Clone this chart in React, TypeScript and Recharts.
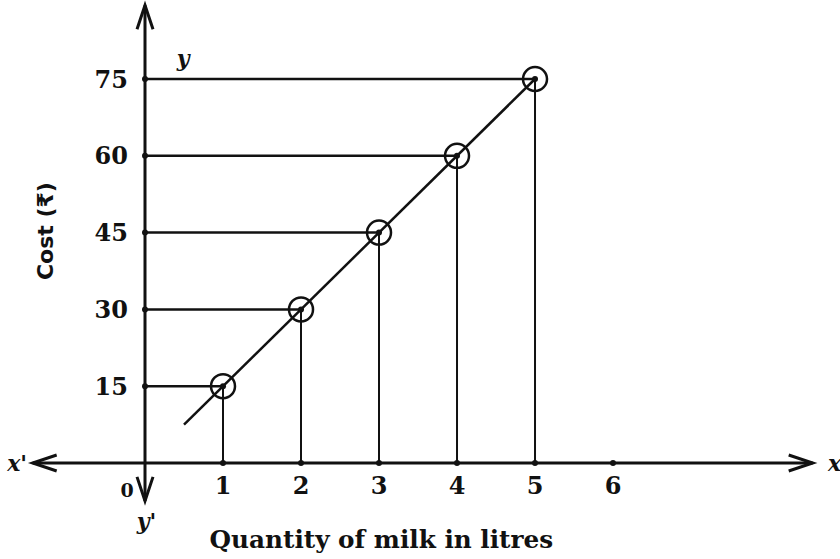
import React from 'react';
import {
    ComposedChart,
    Line,
    Scatter,
    XAxis,
    YAxis,
    ReferenceLine,
    ReferenceDot,
} from 'recharts';

// quantity of milk (litres) vs cost (rupees)
const litres = [1, 2, 3, 4, 5];
const cost = [15, 30, 45, 60, 75];
const xTicks = [1, 2, 3, 4, 5, 6];
const yTicks = [15, 30, 45, 60, 75];
// the drawn line runs a bit beyond the first point
const lineX = [0.5, 5];
const lineY = [7.5, 75];

const points = litres.map((x, i) => ({ x, y: cost[i] }));
const lineData = lineX.map((x, i) => ({ x, y: lineY[i] }));

const W = 840;
const H = 559;
const INK = '#111';
const SERIF = '"DejaVu Serif", "Liberation Serif", serif';

// axis line with open arrow heads on both ends
const ArrowAxis = (props: any) => {
    const { x1, y1, x2, y2 } = props;
    const len = Math.hypot(x2 - x1, y2 - y1) || 1;
    const ux = (x2 - x1) / len;
    const uy = (y2 - y1) / len;
    const back = 24;
    const side = 8;
    const head = (tx: number, ty: number, dx: number, dy: number) => {
        const bx = tx - dx * back;
        const by = ty - dy * back;
        return `M${bx - dy * side},${by + dx * side} L${tx},${ty} L${bx + dy * side},${by - dx * side}`;
    };
    return (
        <g>
            <line x1={x1} y1={y1} x2={x2} y2={y2} stroke={INK} strokeWidth={3} />
            <path d={head(x2, y2, ux, uy)} stroke={INK} strokeWidth={3} fill="none" />
            <path d={head(x1, y1, -ux, -uy)} stroke={INK} strokeWidth={3} fill="none" />
        </g>
    );
};

const RingDot = (props: any) => {
    const { cx, cy } = props;
    return (
        <g>
            <circle cx={cx} cy={cy} r={12} stroke={INK} strokeWidth={2.5} fill="none" />
            <circle cx={cx} cy={cy} r={3} fill={INK} />
        </g>
    );
};

const txt = { fill: INK, fontFamily: SERIF, fontWeight: 'bold', fontSize: 24 };
const ital = { ...txt, fontSize: 22, fontStyle: 'italic' };

export default function App() {
    return (
        <div style={{ position: 'absolute', left: 0, top: 0, width: W, height: H, background: '#fff' }}>
            <ComposedChart width={W} height={H} margin={{ top: 0, right: 0, bottom: 0, left: 0 }}>
                <XAxis type="number" dataKey="x" domain={[-1.859, 8.91]} allowDataOverflow hide />
                <YAxis type="number" dataKey="y" domain={[-18.75, 90.43]} allowDataOverflow hide />

                {/* axes */}
                <ReferenceLine segment={[{ x: -1.44, y: 0 }, { x: 8.56, y: 0 }]} shape={ArrowAxis} />
                <ReferenceLine segment={[{ x: 0, y: -7.4 }, { x: 0, y: 89.4 }]} shape={ArrowAxis} />

                {/* guide lines to the axes */}
                {points.map((p, i) => (
                    <ReferenceLine
                        key={`h-${i}`}
                        segment={[{ x: 0, y: p.y }, { x: p.x, y: p.y }]}
                        stroke={INK}
                        strokeWidth={2.5}
                    />
                ))}
                {points.map((p, i) => (
                    <ReferenceLine
                        key={`v-${i}`}
                        segment={[{ x: p.x, y: 0 }, { x: p.x, y: p.y }]}
                        stroke={INK}
                        strokeWidth={2}
                    />
                ))}

                {/* tick dots + labels */}
                {xTicks.map((t) => (
                    <ReferenceDot
                        key={`xt-${t}`}
                        x={t}
                        y={0}
                        r={3}
                        fill={INK}
                        stroke="none"
                        label={{ value: String(t), position: 'bottom', offset: 11, ...txt }}
                    />
                ))}
                {yTicks.map((t) => (
                    <ReferenceDot
                        key={`yt-${t}`}
                        x={0}
                        y={t}
                        r={3}
                        fill={INK}
                        stroke="none"
                        label={{ value: String(t), position: 'left', offset: 14, ...txt }}
                    />
                ))}

                {/* axis names */}
                <ReferenceDot x={-0.23} y={-5.3} r={0} label={{ value: '0', position: 'center', ...txt, fontSize: 19 }} />
                <ReferenceDot x={-1.64} y={0} r={0} label={{ value: "x'", position: 'center', ...ital }} />
                <ReferenceDot x={8.84} y={0} r={0} label={{ value: 'x', position: 'center', ...ital }} />
                <ReferenceDot x={0.49} y={79.1} r={0} label={{ value: 'y', position: 'center', ...ital }} />
                <ReferenceDot x={0.02} y={-11.3} r={0} label={{ value: "y'", position: 'center', ...ital }} />
                <ReferenceDot
                    x={-1.28}
                    y={45.3}
                    r={0}
                    label={{
                        value: 'Cost (₹)',
                        position: 'center',
                        angle: -90,
                        ...txt,
                        fontFamily: '"DejaVu Sans", sans-serif',
                        fontWeight: 'bold',
                        fontSize: 22,
                    }}
                />
                <ReferenceDot
                    x={3.03}
                    y={-14.8}
                    r={0}
                    label={{ value: 'Quantity of milk in litres', position: 'center', ...txt, fontSize: 24.7 }}
                />

                <Line
                    data={lineData}
                    dataKey="y"
                    type="linear"
                    stroke={INK}
                    strokeWidth={2.5}
                    dot={false}
                    activeDot={false}
                    isAnimationActive={false}
                />
                <Scatter data={points} dataKey="y" fill={INK} shape={RingDot} isAnimationActive={false} />
            </ComposedChart>
        </div>
    );
}
